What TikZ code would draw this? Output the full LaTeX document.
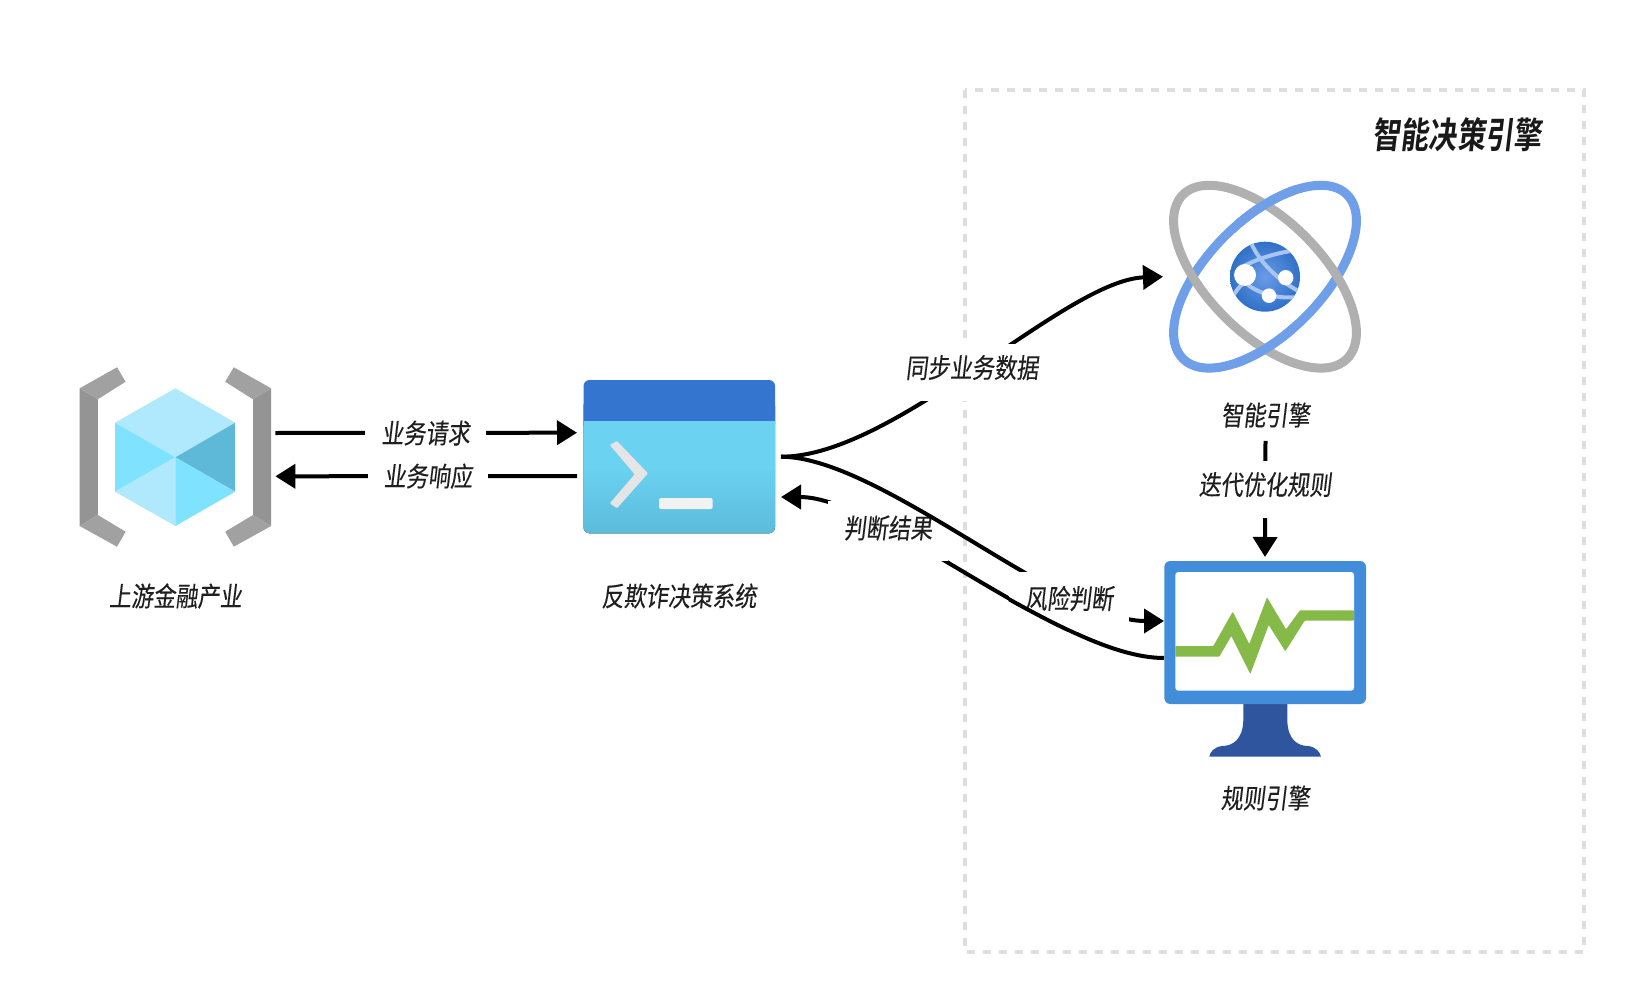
\documentclass[tikz,border=0pt]{standalone}
\usepackage{fontspec}
\usetikzlibrary{arrows.meta,calc}
\newfontfamily\cjk[FakeSlant=0.12,FakeStretch=0.82,FakeBold=0.25]{Noto Sans CJK SC}
\newfontfamily\cjkbold[FakeSlant=0.12,FakeStretch=0.78]{Noto Sans CJK SC Bold}
\definecolor{edgegray}{HTML}{DEDEDE}
\definecolor{ringblue}{HTML}{6F9FE8}
\definecolor{ringgray}{HTML}{B0B0B0}
\definecolor{screenblue}{HTML}{418DD9}
\definecolor{standblue}{HTML}{2F559F}
\definecolor{pulsegreen}{HTML}{86BA48}
\tikzset{
	iconbox/.style={minimum width=#1,inner sep=0pt,outer sep=0pt},
	conn/.style={line width=4pt,-{Triangle[length=20pt,width=24pt]}},
	lbl/.style={fill=white,inner xsep=16pt,inner ysep=11pt,text depth=12pt,text=black!88,font=\cjk\fontsize{27}{30}\selectfont},
	caption/.style={text=black!88,font=\cjk\fontsize{27}{30}\selectfont},
}
\newcommand{\lowercurve}{([yshift=-25.5pt]monitor.west) .. controls (1060,658) and (880,497) .. (system.east |- 0,497)}
\begin{document}
\begin{tikzpicture}[x=1pt,y=-1pt]
	\useasboundingbox (0,0) rectangle (1642,1006);
	\fill[white] (0,0) rectangle (1642,1006);

	% engine group
	\draw[edgegray,line width=4pt,dash pattern=on 8pt off 8pt] (965,90) rectangle (1584,952);
	\node[font=\cjkbold\fontsize{36}{40}\selectfont,text=black!90] (grouptitle) at (1457,134.5) {智能决策引擎};

	% upstream cube
	\node[iconbox=200pt,minimum height=180pt] (gateway) at (175.4,457) {};
	\fill[black!42] (79.7,388.3) -- (97.8,399.3) -- (97.8,515) -- (79.7,526) -- cycle;
	\fill[black!37] (79.7,388.3) -- (117,367.3) -- (125.6,381.7) -- (97.8,399.3) -- cycle;
	\fill[black!37] (79.7,526) -- (117,546.7) -- (125.6,531.7) -- (97.8,515) -- cycle;
	\fill[black!42] (271.1,388.3) -- (253,399.3) -- (253,515) -- (271.1,526) -- cycle;
	\fill[black!37] (271.1,388.3) -- (233.8,367.3) -- (225.2,381.7) -- (253,399.3) -- cycle;
	\fill[black!37] (271.1,526) -- (233.8,546.7) -- (225.2,531.7) -- (253,515) -- cycle;
	\fill[fill={rgb,255:red,176;green,233;blue,253}] (175.4,388.3) -- (235.2,422.7) -- (175.4,457.3) -- (115,422.7) -- cycle;
	\fill[fill={rgb,255:red,127;green,226;blue,254}] (115,422.7) -- (175.4,457.3) -- (115,491.7) -- cycle;
	\fill[fill={rgb,255:red,94;green,185;blue,217}] (235.2,422.7) -- (235.2,491.7) -- (175.4,457.3) -- cycle;
	\fill[fill={rgb,255:red,176;green,233;blue,253}] (175.4,457.3) -- (115,491.7) -- (175.4,526) -- cycle;
	\fill[fill={rgb,255:red,127;green,226;blue,254}] (175.4,457.3) -- (175.4,526) -- (235.2,491.7) -- cycle;
	\node[caption] (gatewaylbl) at (175.4,596) {上游金融产业};

	% decision system window
	\node[iconbox=204pt,minimum height=153pt] (system) at (679,456.7) {};
	\fill[rounded corners=6pt,top color={rgb,255:red,107;green,210;blue,242},bottom color={rgb,255:red,92;green,187;blue,218},middle color={rgb,255:red,107;green,210;blue,242}] (583.5,400) rectangle (775,533.3);
	\fill[rounded corners=6pt,fill={rgb,255:red,52;green,118;blue,207}] (583.5,380) rectangle (775,430);
	\fill[fill={rgb,255:red,107;green,210;blue,242}] (583.5,421) rectangle (775,432);
	\fill[black!10,rounded corners=1pt] (609.8,445) -- (617,441) -- (648,473.3) -- (617,508.3) -- (609.8,503.3) -- (634.7,474.3) -- cycle;
	\fill[black!5,rounded corners=2pt] (659,498) rectangle (712.7,509);
	\node[caption] (systemlbl) at (679,596) {反欺诈决策系统};

	% smart engine rings
	\node[iconbox=204pt,minimum height=190pt] (atom) at (1265,276.7) {};
	\draw[ringblue,line width=9pt,rotate around={45:(atom.center)}] (atom.center) ellipse [x radius=116,y radius=57];
	\draw[ringgray,line width=9pt,rotate around={-45:(atom.center)}] (atom.center) ellipse [x radius=116,y radius=57];
	\begin{scope}
		\clip (1235,170) rectangle (1295,380);
		\draw[ringblue,line width=9pt,rotate around={45:(atom.center)}] (atom.center) ellipse [x radius=116,y radius=57];
	\end{scope}
	\begin{scope}
		\clip (1265,276.7) circle (35);
		\shade[inner color={rgb,255:red,106;green,155;blue,232},outer color={rgb,255:red,48;green,113;blue,200}] (1265,276.7) circle (35);
		\draw[ringblue!60!white,line width=4pt] (1250,240) .. controls (1258,262) and (1280,282) .. (1302,293);
		\draw[ringblue!60!white,line width=4pt] (1240,268) .. controls (1258,258) and (1280,252) .. (1298,250);
		\draw[ringblue!60!white,line width=4pt] (1233,296) .. controls (1238,288) and (1242,284) .. (1246,280);
		\draw[ringblue!60!white,line width=4pt] (1248,285) .. controls (1262,295) and (1280,299) .. (1298,297);
	\end{scope}
	\fill[white] (1245,275) circle (11);
	\fill[white] (1285.7,277.7) circle (7.7);
	\fill[white] (1269,295.7) circle (7.3);

	% rule engine monitor
	\node[iconbox=202pt,minimum height=143pt] (monitor) at (1265,632.5) {};
	\fill[standblue] (1243.3,700) -- (1243.3,720) .. controls (1243,740) and (1232,746) .. (1222,746) .. controls (1214,747) and (1210,752) .. (1209.3,756.7) -- (1321,756.7) .. controls (1320,752) and (1316,747) .. (1308,746) .. controls (1298,746) and (1287.6,740) .. (1287.3,720) -- (1287.3,700) -- cycle;
	\fill[screenblue,rounded corners=6pt] (1164.3,561) rectangle (1366,704);
	\fill[white,rounded corners=3pt] (1175.3,572) rectangle (1354,690.7);
	\fill[pulsegreen,rounded corners=0.8pt] (1175.3,646) -- (1213.3,646) -- (1232.7,611.7) -- (1249.3,644) -- (1267,597.3) -- (1286,629.3) -- (1300,610.3) -- (1354,610.3) -- (1354,620.7) -- (1304.7,620.7) -- (1285.3,651.3) -- (1268.7,625) -- (1250.3,674) -- (1231.3,636) -- (1219.3,656.7) -- (1175.3,656.7) -- cycle;

	% connectors
	\draw[conn] ([yshift=24pt]gateway.east) -- ([yshift=24pt]system.west);
	\draw[conn] ([yshift=-19.3pt]system.west) -- ([yshift=-19.3pt]gateway.east);
	\draw[conn] (system.east) .. controls (895,457) and (1065,280) .. (atom.west);
	\draw[conn] \lowercurve;
	\node[lbl,text depth=8.3pt,inner ysep=14.5pt] (resultlbl) at (888,531) {判断结果};
	\draw[conn] (system.east) .. controls (880,457) and (1060,621) .. (monitor.north west |- 0,621);
	\node[lbl,text depth=9.3pt,inner ysep=13.5pt] (risklbl) at (1069,602) {风险判断};
	\begin{scope}
		\clip (risklbl.north west) rectangle (risklbl.south east);
		\draw[line width=4pt] \lowercurve;
	\end{scope}
	\node[lbl] (requestlbl) at (425.6,438) {业务请求};
	\node[lbl] (responselbl) at (428,481) {业务响应};
	\node[lbl] (synclbl) at (972,372.5) {同步业务数据};
	\node[caption,text depth=12pt] (atomlbl) at (1265.5,420) {智能引擎};
	\draw[conn] (atomlbl.south) -- ([yshift=4pt]monitor.north);
	\node[lbl] (iterlbl) at (1265,489.5) {迭代优化规则};
	\node[caption] (monitorlbl) at (1265,798) {规则引擎};
\end{tikzpicture}
\end{document}
